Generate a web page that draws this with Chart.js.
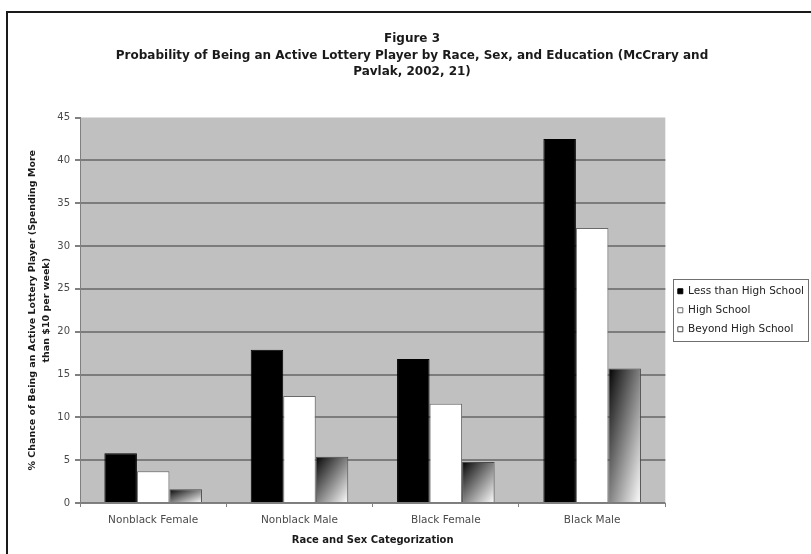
<!DOCTYPE html>
<html>
<head>
<meta charset="utf-8">
<script src="https://cdn.jsdelivr.net/npm/chart.js@4"></script>
<style>
  html, body { margin: 0; padding: 0; background: #fff; }
  #wrap { width: 811px; height: 554px; }
</style>
</head>
<body>
<div id="wrap"><canvas id="lotteryChart" width="811" height="554"></canvas></div>
<script>
const categories = ['Nonblack Female', 'Nonblack Male', 'Black Female', 'Black Male'];
const seriesNames = ['Less than High School', 'High School', 'Beyond High School'];
const lessThanHighSchool = [5.8, 17.9, 16.8, 42.5];
const highSchool = [3.7, 12.5, 11.6, 32.1];
const beyondHighSchool = [1.6, 5.4, 4.8, 15.7];
const yTicks = [0, 5, 10, 15, 20, 25, 30, 35, 40, 45];

const titleLines = [
    'Figure 3',
    'Probability of Being an Active Lottery Player by Race, Sex, and Education (McCrary and',
    'Pavlak, 2002, 21)'
];
const yTitleLines = [
    '% Chance of Being an Active Lottery Player (Spending More',
    'than $10 per week)'
];
const xTitle = 'Race and Sex Categorization';

const FONT = "'DejaVu Sans', sans-serif";
const catPct = 3 / 4.5;

// diagonal fill like the old office chart: dark top-left, white bottom-right
function gradientFill(context) {
    const chart = context.chart;
    const xs = chart.scales.x;
    const ys = chart.scales.y;
    if (!xs || !ys || context.raw === undefined || !chart.chartArea) {
        return '#8a8a8a';
    }
    const catW = xs.width / categories.length;
    const chunk = catW * catPct / 3;
    const left = xs.getPixelForValue(context.dataIndex) - catW * catPct / 2 + chunk * context.datasetIndex;
    const top = ys.getPixelForValue(context.raw);
    const w = chunk;
    const h = Math.max(1, ys.getPixelForValue(0) - top);
    const k = 2 / (1 / (w * w) + 1 / (h * h));
    const g = chart.ctx.createLinearGradient(left, top, left + k / w, top + k / h);
    g.addColorStop(0, '#000000');
    g.addColorStop(0.15, '#2a2a2a');
    g.addColorStop(1, '#ffffff');
    return g;
}

const plotBackground = {
    id: 'plotBackground',
    afterLayout(chart) {
        // leave a small gap between the plot and the legend box
        if (chart.legend) {
            chart.legend.left = chart.chartArea.right + 4;
        }
    },
    beforeDraw(chart) {
        const {ctx, chartArea} = chart;
        ctx.save();
        ctx.fillStyle = '#fff';
        ctx.fillRect(0, 0, chart.width, chart.height);
        ctx.fillStyle = '#c0c0c0';
        ctx.fillRect(chartArea.left, chartArea.top, chartArea.right - chartArea.left, chartArea.bottom - chartArea.top);
        // outer frame of the figure
        ctx.strokeStyle = '#1a1a1a';
        ctx.lineWidth = 2;
        ctx.strokeRect(7, 12, chart.width + 20, chart.height + 20);
        ctx.restore();
    },
    afterDraw(chart) {
        const legend = chart.legend;
        if (!legend || !legend.legendHitBoxes.length) return;
        const boxes = legend.legendHitBoxes;
        const first = boxes[0];
        const last = boxes[boxes.length - 1];
        const widest = Math.max(...boxes.map(b => b.width));
        const x0 = Math.round(first.left - 5) + 0.5;
        const y0 = Math.round(first.top - 7) + 0.5;
        const ctx = chart.ctx;
        ctx.save();
        ctx.strokeStyle = '#707070';
        ctx.lineWidth = 1;
        ctx.strokeRect(x0, y0, Math.round(first.left + widest + 4 - x0),
            Math.round(last.top + last.height + 7 - y0));
        ctx.restore();
    }
};

const ctx = document.getElementById('lotteryChart').getContext('2d');

new Chart(ctx, {
    type: 'bar',
    data: {
        labels: categories,
        datasets: [{
            label: seriesNames[0],
            data: lessThanHighSchool,
            backgroundColor: '#000000',
            borderColor: '#000000',
            borderWidth: 1
        }, {
            label: seriesNames[1],
            data: highSchool,
            backgroundColor: '#ffffff',
            borderColor: '#6a6a6a',
            borderWidth: 1
        }, {
            label: seriesNames[2],
            data: beyondHighSchool,
            backgroundColor: gradientFill,
            borderColor: '#4a4a4a',
            borderWidth: 1
        }]
    },
    options: {
        responsive: false,
        animation: false,
        datasets: {
            bar: {
                categoryPercentage: catPct,
                barPercentage: 1
            }
        },
        layout: {
            padding: { left: 14, right: 1, top: 0, bottom: 0 }
        },
        plugins: {
            title: {
                display: true,
                text: titleLines,
                color: '#1a1a1a',
                font: { family: FONT, size: 12, weight: 'bold', lineHeight: '16.5px' },
                padding: { top: 31, bottom: 37 }
            },
            legend: {
                position: 'right',
                fullSize: false,
                labels: {
                    boxWidth: 5,
                    boxHeight: 5,
                    padding: 8.5,
                    color: '#222',
                    font: { family: FONT, size: 10.5 }
                }
            },
            tooltip: { enabled: false }
        },
        scales: {
            x: {
                afterFit(scale) {
                    scale.height = 51;
                },
                grid: {
                    display: true,
                    drawOnChartArea: false,
                    offset: true,
                    tickLength: 4,
                    color: '#808080'
                },
                border: { display: true, color: '#808080', width: 1 },
                ticks: {
                    color: '#4a4a4a',
                    padding: 7,
                    font: { family: FONT, size: 10.5 }
                },
                title: {
                    display: true,
                    text: xTitle,
                    color: '#1a1a1a',
                    font: { family: FONT, size: 10, weight: 'bold', lineHeight: 1.2 },
                    padding: { top: 0, bottom: 8 }
                }
            },
            y: {
                min: 0,
                max: 45,
                afterFit(scale) {
                    scale.width = 66;
                },
                afterBuildTicks(scale) {
                    scale.ticks = yTicks.map(v => ({ value: v }));
                },
                grid: {
                    color: c => (c.tick && c.tick.value === 45 ? 'rgba(0,0,0,0)' : '#7c7c7c'),
                    tickColor: '#808080',
                    lineWidth: 2,
                    tickLength: 5
                },
                border: { display: true, color: '#808080', width: 1 },
                ticks: {
                    color: '#4a4a4a',
                    padding: 5,
                    font: { family: FONT, size: 10 }
                },
                title: {
                    display: true,
                    text: yTitleLines,
                    color: '#1a1a1a',
                    font: { family: FONT, size: 9.5, weight: 'bold', lineHeight: '14px' },
                    padding: { top: 12, bottom: 4 }
                }
            }
        }
    },
    plugins: [plotBackground]
});
</script>
</body>
</html>
